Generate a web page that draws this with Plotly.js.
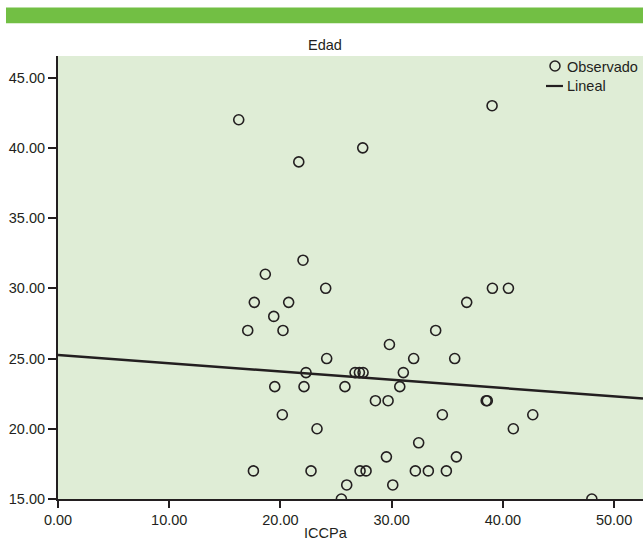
<!DOCTYPE html>
<html>
<head>
<meta charset="utf-8">
<script src="https://cdn.plot.ly/plotly-3.0.1.min.js"></script>
<style>html,body{margin:0;padding:0;background:#fff;overflow:hidden;}#chart{width:643px;height:541px;}</style>
</head>
<body>
<div id="chart"></div>
<script>
// Observed points (ICCPa, Edad)
var iccpa = [16.25, 21.65, 27.4, 39.03, 22.03, 18.64, 24.07, 17.65, 20.74, 19.4,
             17.06, 20.23, 36.75, 39.06, 40.5, 29.8, 33.96, 24.16, 31.98, 35.67,
             22.3, 26.71, 27.1, 27.43, 31.05, 19.49, 22.12, 25.8, 30.73, 28.54,
             29.68, 38.5, 38.6, 20.17, 34.56, 42.69, 23.29, 40.94, 32.43, 29.53,
             35.82, 17.57, 22.75, 27.16, 27.7, 32.13, 33.3, 34.92, 25.96, 30.1,
             25.48, 48.0];
var edad  = [42, 39, 40, 43, 32, 31, 30, 29, 29, 28,
             27, 27, 29, 30, 30, 26, 27, 25, 25, 25,
             24, 24, 24, 24, 24, 23, 23, 23, 23, 22,
             22, 22, 22, 21, 21, 21, 20, 20, 19, 18,
             18, 17, 17, 17, 17, 17, 17, 17, 16, 16,
             15, 15];
// Linear fit
var fitIntercept = 25.25;
var fitSlope = -0.0587;
var fitX = [0, 52.6];
var fitY = fitX.map(function (v) { return fitIntercept + fitSlope * v; });

var xTickVals = [0, 10, 20, 30, 40, 50];
var yTickVals = [15, 20, 25, 30, 35, 40, 45];
var legendLabels = ['Observado', 'Lineal'];

var ink = '#231f20';
var fam = 'Liberation Sans, Arial, Helvetica, sans-serif';
var tfont = {family: fam, size: 14.5, color: ink};

var traces = [
  {
    x: iccpa, y: edad, type: 'scatter', mode: 'markers', name: legendLabels[0],
    marker: {symbol: 'circle-open', size: 10, color: ink, line: {width: 1.6, color: ink}},
    cliponaxis: true, hoverinfo: 'x+y'
  },
  {
    x: fitX, y: fitY, type: 'scatter', mode: 'lines', name: legendLabels[1],
    line: {color: ink, width: 2.5}, hoverinfo: 'skip'
  }
];

var layout = {
  width: 643, height: 541,
  margin: {l: 58, r: 0, t: 56, b: 42, pad: 0},
  paper_bgcolor: '#ffffff',
  plot_bgcolor: '#dfedd6',
  font: tfont,
  showlegend: false,
  xaxis: {
    range: [0, 52.6], tickvals: xTickVals, tickformat: '.2f',
    showline: true, linecolor: ink, linewidth: 2,
    ticks: 'outside', ticklen: 7, tickwidth: 2, tickcolor: ink,
    showgrid: false, zeroline: false, mirror: false,
    tickfont: tfont
  },
  yaxis: {
    range: [15, 46.54], tickvals: yTickVals, tickformat: '.2f',
    showline: true, linecolor: ink, linewidth: 2,
    ticks: 'outside', ticklen: 8, tickwidth: 2, tickcolor: ink,
    showgrid: false, zeroline: false, mirror: false,
    tickfont: tfont
  },
  shapes: [
    {type: 'rect', xref: 'paper', yref: 'paper',
     x0: -0.0889, x1: 1.0, y0: 1.074, y1: 1.1095,
     fillcolor: '#72bf44', line: {width: 0}, layer: 'above'},
    // legend symbols
    {type: 'circle', xref: 'paper', yref: 'paper',
     x0: 0.8410, x1: 0.8581, y0: 0.9661, y1: 0.9887,
     line: {color: ink, width: 1.5}, fillcolor: 'rgba(0,0,0,0)'},
    {type: 'line', xref: 'paper', yref: 'paper',
     x0: 0.8342, x1: 0.8632, y0: 0.9323, y1: 0.9323,
     line: {color: ink, width: 2.2}}
  ],
  annotations: [
    {text: 'Edad', xref: 'paper', yref: 'paper', x: 0.4564, y: 1.024,
     xanchor: 'center', yanchor: 'middle', showarrow: false, font: tfont},
    {text: 'ICCPa', xref: 'paper', yref: 'paper', x: 0.4581, y: -0.077,
     xanchor: 'center', yanchor: 'middle', showarrow: false, font: tfont},
    {text: legendLabels[0], xref: 'paper', yref: 'paper', x: 0.8667, y: 0.9752,
     xanchor: 'left', yanchor: 'middle', showarrow: false, font: tfont},
    {text: legendLabels[1], xref: 'paper', yref: 'paper', x: 0.8667, y: 0.9323,
     xanchor: 'left', yanchor: 'middle', showarrow: false, font: tfont}
  ]
};

Plotly.newPlot('chart', traces, layout, {displayModeBar: false, staticPlot: true});
</script>
</body>
</html>
